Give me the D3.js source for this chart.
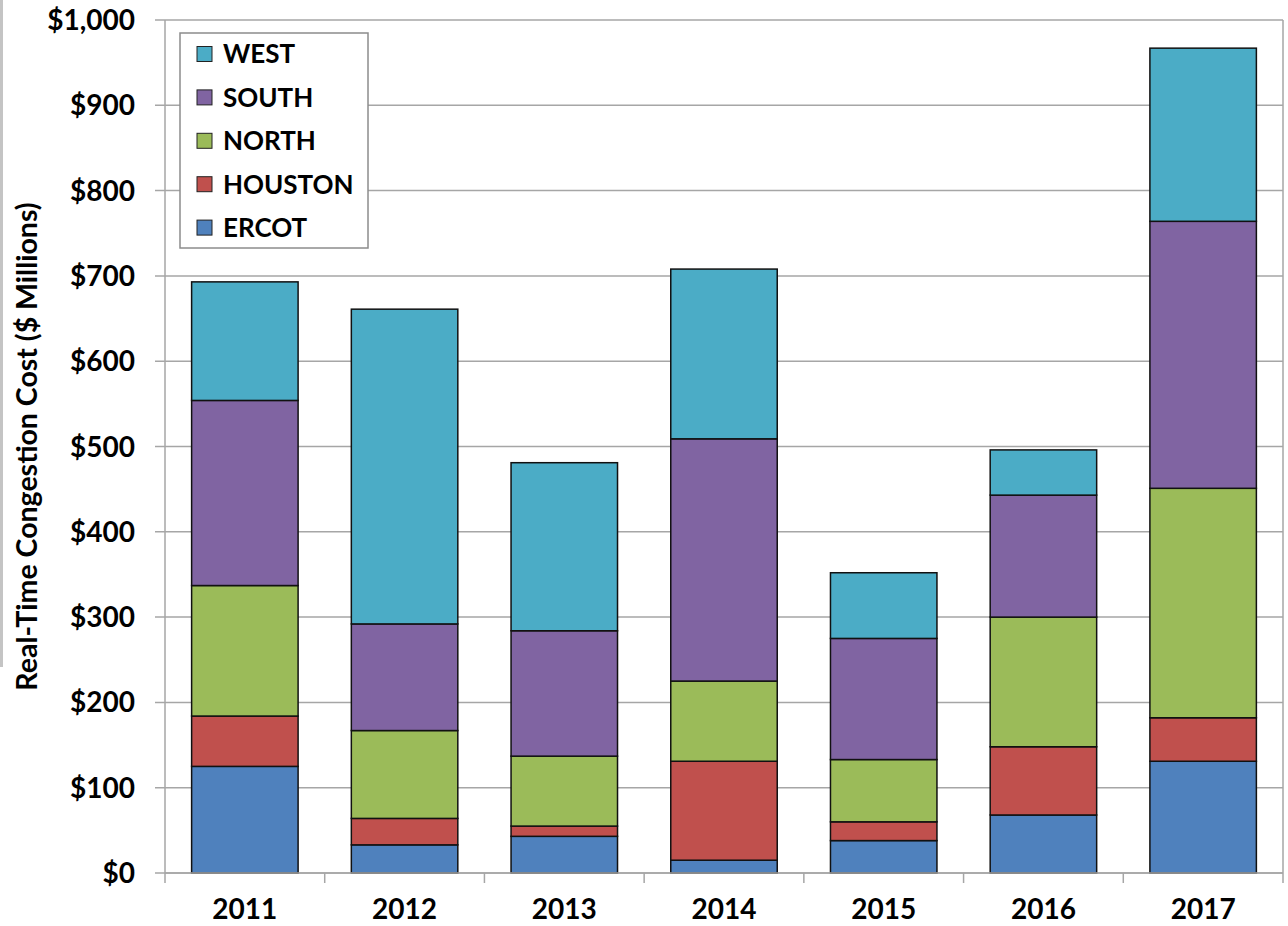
<!doctype html>
<html lang="en">
<head>
  <meta charset="utf-8">
  <title>Real-Time Congestion Cost</title>
  <script src="https://d3js.org/d3.v7.min.js"></script>
  <style>
  body { margin: 0; background: #fff; }
  text { font-family: Lato, "Open Sans", sans-serif; font-weight: bold; fill: #000; }
  .grid line { stroke: #a6a6a6; stroke-width: 1.5; }
  .bar { stroke: #111; stroke-width: 1.5; }
  </style>
</head>
<body>
<script>
  // data ($ millions)
  var years = ["2011", "2012", "2013", "2014", "2015", "2016", "2017"]
  var ercot   = [125, 33, 43, 15, 38, 68, 131]
  var houston = [59, 31, 12, 116, 22, 80, 51]
  var north   = [153, 103, 82, 94, 73, 152, 269]
  var south   = [217, 125, 147, 284, 142, 143, 313]
  var west    = [139, 369, 197, 199, 77, 53, 203]
  var series_names = ["ERCOT", "HOUSTON", "NORTH", "SOUTH", "WEST"]
  var series_colors = ["#4f81bd", "#c0504d", "#9bbb59", "#8064a2", "#4bacc6"]
  var y_ticks = [0, 100, 200, 300, 400, 500, 600, 700, 800, 900, 1000]

  var series_values = [ercot, houston, north, south, west]
  var table = years.map(function(yr, i) {
    var row = {year: yr}
    series_names.forEach(function(s, j) { row[s] = series_values[j][i] })
    return row
  })

  var margin = {top: 20, right: 5, bottom: 53, left: 165},
      width = 1288 - margin.left - margin.right,
      height = 926 - margin.top - margin.bottom;

  var x = d3.scaleBand().domain(years).range([0, width]).paddingInner(1/3).paddingOuter(1/6);
  var y = d3.scaleLinear().domain([0, 1000]).range([height, 0]);
  var color = d3.scaleOrdinal().domain(series_names).range(series_colors);

  var svg_root = d3.select("body").append("svg")
      .attr("width", 1288)
      .attr("height", 926);

  // grey strip down the left edge
  svg_root.append("rect")
      .attr("x", 0).attr("y", 0)
      .attr("width", 3).attr("height", 667)
      .attr("fill", "#c4c4c4");

  var svg = svg_root.append("g")
      .attr("transform", "translate(" + margin.left + "," + margin.top + ")");

  // horizontal gridlines (with tick stubs to the left)
  svg.append("g").attr("class", "grid")
    .selectAll("line").data(y_ticks).enter().append("line")
      .attr("x1", -10).attr("x2", width)
      .attr("y1", function(d) { return y(d); })
      .attr("y2", function(d) { return y(d); });

  // right border + left axis line
  svg.append("line").attr("x1", width).attr("x2", width).attr("y1", 0).attr("y2", height)
      .attr("stroke", "#a6a6a6").attr("stroke-width", 1.5);
  svg.append("line").attr("x1", 0).attr("x2", 0).attr("y1", 0).attr("y2", height)
      .attr("stroke", "#a6a6a6").attr("stroke-width", 1.5);

  // x axis tick marks at category boundaries
  var step = x.step();
  svg.append("g").selectAll("line")
      .data(d3.range(years.length + 1)).enter().append("line")
      .attr("x1", function(i) { return i * step; })
      .attr("x2", function(i) { return i * step; })
      .attr("y1", height).attr("y2", height + 10)
      .attr("stroke", "#a6a6a6").attr("stroke-width", 1.5);

  // y tick labels
  svg.append("g").selectAll("text")
      .data(y_ticks).enter().append("text")
      .attr("x", -30)
      .attr("y", function(d) { return y(d); })
      .attr("dy", "0.36em")
      .attr("text-anchor", "end")
      .style("font-size", "28px")
      .text(function(d) { return "$" + d3.format(",")(d); });

  // x labels
  svg.append("g").selectAll("text")
      .data(years).enter().append("text")
      .attr("x", function(d) { return x(d) + x.bandwidth() / 2; })
      .attr("y", height + 46)
      .attr("text-anchor", "middle")
      .style("font-size", "28px")
      .text(function(d) { return d; });

  // stacked bars
  var stacked = d3.stack().keys(series_names)(table);
  svg.append("g").selectAll("g")
      .data(stacked).enter().append("g")
      .attr("fill", function(d) { return color(d.key); })
    .selectAll("rect")
      .data(function(d) { return d; }).enter().append("rect")
      .attr("class", "bar")
      .attr("x", function(d) { return x(d.data.year); })
      .attr("width", x.bandwidth())
      .attr("y", function(d) { return y(d[1]); })
      .attr("height", function(d) { return y(d[0]) - y(d[1]); });

  // bottom axis line
  svg.append("line").attr("x1", 0).attr("x2", width).attr("y1", height).attr("y2", height)
      .attr("stroke", "#a6a6a6").attr("stroke-width", 1.5);

  // y axis title
  svg_root.append("text")
      .attr("transform", "translate(37," + (margin.top + height / 2) + ") rotate(-90)")
      .attr("text-anchor", "middle")
      .style("font-size", "28.5px")
      .text("Real-Time Congestion Cost ($ Millions)");

  // legend, WEST on top
  var legend = svg_root.append("g").attr("transform", "translate(180,33)");
  legend.append("rect")
      .attr("width", 188).attr("height", 215)
      .attr("fill", "#fff").attr("stroke", "#8c8c8c").attr("stroke-width", 1.5);
  var items = legend.selectAll(".item")
      .data(series_names.slice().reverse()).enter().append("g")
      .attr("transform", function(d, i) { return "translate(17," + (21 + i * 43.4) + ")"; });
  items.append("rect")
      .attr("x", 0).attr("y", -7.5)
      .attr("width", 15).attr("height", 15)
      .attr("fill", function(d) { return color(d); })
      .attr("stroke", "#222").attr("stroke-width", 1);
  items.append("text")
      .attr("x", 26).attr("dy", "0.36em")
      .style("font-size", "26px")
      .text(function(d) { return d; });
</script>
</body>
</html>
